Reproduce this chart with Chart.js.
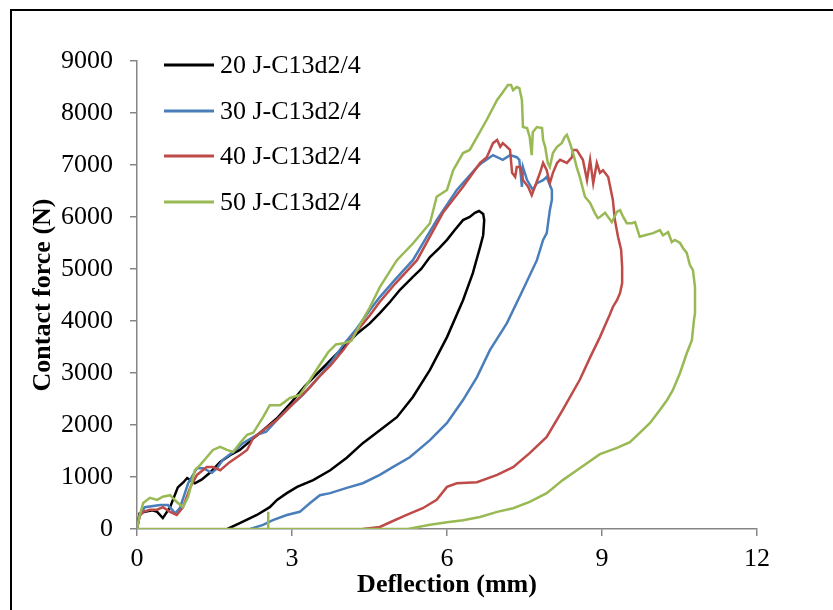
<!DOCTYPE html>
<html>
<head>
<meta charset="utf-8">
<script src="https://cdn.jsdelivr.net/npm/chart.js@4.4.1/dist/chart.umd.min.js"></script>
<style>
  html, body { margin: 0; padding: 0; background: #ffffff; }
  #wrap { width: 833px; height: 610px; position: relative; }
</style>
</head>
<body>
<div id="wrap"><canvas id="c" width="833" height="610"></canvas></div>
<script>
// ---- Data (deflection in mm, force in N) ----
const seriesLabels = ['20 J-C13d2/4', '30 J-C13d2/4', '40 J-C13d2/4', '50 J-C13d2/4'];
const seriesColors = ['#000000', '#4a7ebb', '#be4b48', '#98b954'];

const xTicks = [0, 3, 6, 9, 12];
const yTicks = [0, 1000, 2000, 3000, 4000, 5000, 6000, 7000, 8000, 9000];

const defl20 = [0, 0.05, 0.15, 0.3, 0.39, 0.5, 0.64, 0.79, 0.9, 0.97, 1.05, 1.12, 1.25, 1.41, 1.61, 1.8, 1.99, 2.2, 2.44, 2.71, 3.0, 3.25, 3.5, 3.75, 4.0, 4.25, 4.5, 4.7, 4.9, 5.09, 5.34, 5.5, 5.67, 5.85, 6.0, 6.15, 6.31, 6.44, 6.54, 6.62, 6.70, 6.72, 6.70, 6.64, 6.5, 6.31, 6.0, 5.67, 5.34, 5.03, 4.70, 4.37, 4.06, 3.74, 3.41, 3.10, 2.90, 2.71, 2.57, 2.32, 1.99, 1.75];
const force20 = [0, 300, 330, 360, 330, 210, 420, 800, 900, 980, 930, 880, 950, 1080, 1290, 1420, 1520, 1700, 1900, 2130, 2450, 2750, 3000, 3250, 3500, 3750, 3950, 4150, 4370, 4600, 4850, 5000, 5230, 5400, 5560, 5750, 5940, 6000, 6080, 6115, 6060, 5940, 5650, 5420, 4920, 4400, 3690, 3060, 2540, 2150, 1900, 1650, 1370, 1130, 940, 810, 690, 560, 420, 270, 115, 0];

const defl30 = [0, 0.05, 0.15, 0.45, 0.6, 0.74, 0.83, 0.99, 1.16, 1.28, 1.45, 1.55, 1.66, 1.86, 2.05, 2.32, 2.5, 2.71, 2.96, 3.21, 3.5, 3.75, 4.0, 4.25, 4.5, 4.7, 5.0, 5.34, 5.8, 6.19, 6.58, 6.7, 6.89, 6.97, 7.08, 7.22, 7.35, 7.40, 7.45, 7.47, 7.55, 7.66, 7.74, 7.86, 7.93, 8.03, 8.03, 7.99, 7.93, 7.86, 7.74, 7.47, 7.16, 6.83, 6.58, 6.31, 6.0, 5.67, 5.28, 4.95, 4.70, 4.37, 4.06, 3.74, 3.54, 3.35, 3.15, 2.9, 2.63, 2.44, 2.19];
const force30 = [0, 250, 420, 460, 460, 300, 400, 880, 1170, 1170, 1080, 1170, 1330, 1480, 1650, 1810, 1870, 2100, 2350, 2580, 2900, 3200, 3550, 3850, 4200, 4460, 4800, 5170, 5940, 6520, 6960, 7060, 7190, 7150, 7100, 7190, 7150, 7100, 6580, 6960, 6710, 6520, 6650, 6710, 6770, 6520, 6330, 6130, 5690, 5560, 5170, 4600, 3960, 3440, 2920, 2480, 2040, 1710, 1380, 1190, 1040, 880, 790, 690, 650, 500, 330, 270, 170, 80, 0];

const defl40 = [0, 0.05, 0.12, 0.25, 0.39, 0.5, 0.64, 0.77, 0.89, 1.03, 1.16, 1.35, 1.47, 1.61, 1.8, 1.99, 2.13, 2.25, 2.44, 2.71, 2.96, 3.35, 3.5, 3.75, 4.0, 4.25, 4.5, 4.7, 5.0, 5.42, 5.92, 6.31, 6.64, 6.77, 6.89, 6.97, 7.03, 7.08, 7.16, 7.22, 7.26, 7.32, 7.35, 7.42, 7.47, 7.57, 7.64, 7.70, 7.80, 7.86, 7.93, 7.99, 8.05, 8.13, 8.19, 8.32, 8.42, 8.44, 8.51, 8.63, 8.71, 8.77, 8.83, 8.90, 8.96, 9.02, 9.12, 9.21, 9.25, 9.31, 9.37, 9.39, 9.39, 9.35, 9.29, 9.21, 9.15, 9.06, 8.96, 8.77, 8.57, 8.24, 7.93, 7.6, 7.28, 6.97, 6.58, 6.19, 6.0, 5.8, 5.53, 5.22, 4.9, 4.7, 4.37];
const force40 = [0, 250, 330, 370, 370, 420, 330, 270, 420, 800, 1040, 1190, 1190, 1130, 1290, 1420, 1520, 1750, 1900, 2100, 2350, 2730, 2900, 3150, 3450, 3800, 4100, 4370, 4720, 5170, 6080, 6580, 7040, 7150, 7420, 7480, 7350, 7420, 7350, 7290, 6850, 6770, 6960, 6960, 6710, 6580, 6420, 6580, 6850, 7040, 6900, 6650, 6850, 7040, 7100, 7040, 7150, 7290, 7290, 7100, 6710, 7100, 6650, 7040, 6850, 6900, 6770, 6330, 5940, 5620, 5370, 5040, 4730, 4540, 4400, 4270, 4120, 3920, 3690, 3300, 2870, 2290, 1770, 1460, 1190, 1040, 900, 880, 810, 560, 400, 270, 130, 40, 0];

const defl50 = [0, 0.05, 0.12, 0.25, 0.39, 0.5, 0.64, 0.77, 0.89, 0.99, 1.12, 1.22, 1.35, 1.47, 1.61, 1.74, 1.86, 1.99, 2.13, 2.25, 2.44, 2.57, 2.77, 2.96, 3.15, 3.35, 3.5, 3.7, 3.85, 4.0, 4.15, 4.3, 4.5, 4.7, 5.03, 5.34, 5.67, 5.8, 6.0, 6.12, 6.31, 6.44, 6.77, 6.97, 7.08, 7.18, 7.24, 7.28, 7.35, 7.40, 7.45, 7.47, 7.55, 7.60, 7.64, 7.66, 7.74, 7.84, 7.86, 7.90, 7.95, 7.99, 8.05, 8.13, 8.22, 8.28, 8.32, 8.38, 8.44, 8.51, 8.57, 8.67, 8.77, 8.86, 8.92, 8.96, 9.06, 9.19, 9.29, 9.35, 9.41, 9.48, 9.58, 9.64, 9.73, 9.83, 9.99, 10.12, 10.18, 10.28, 10.35, 10.41, 10.51, 10.57, 10.64, 10.70, 10.76, 10.80, 10.80, 10.78, 10.74, 10.64, 10.51, 10.37, 10.26, 10.12, 9.93, 9.73, 9.54, 9.29, 8.96, 8.57, 8.24, 7.93, 7.6, 7.28, 6.97, 6.64, 6.31, 6.0, 5.67, 5.34, 5.44, 2.54, 2.54, 2.54, 0];
const force50 = [0, 250, 500, 600, 560, 620, 650, 520, 420, 620, 1130, 1230, 1380, 1520, 1580, 1520, 1480, 1650, 1810, 1850, 2150, 2380, 2380, 2520, 2580, 2870, 3100, 3400, 3550, 3570, 3620, 3900, 4250, 4650, 5170, 5490, 5880, 6390, 6520, 6900, 7230, 7290, 7870, 8250, 8400, 8540, 8540, 8440, 8500, 8480, 8250, 7730, 7710, 7540, 7190, 7630, 7730, 7710, 7480, 7350, 7040, 6960, 7230, 7350, 7420, 7540, 7580, 7420, 7230, 6960, 6770, 6390, 6270, 6080, 5980, 6000, 6080, 5900, 6100, 6130, 6000, 5880, 5880, 5900, 5620, 5650, 5690, 5750, 5650, 5710, 5520, 5560, 5500, 5400, 5310, 5080, 4980, 4650, 4150, 4020, 3630, 3380, 3000, 2670, 2480, 2290, 2040, 1850, 1670, 1560, 1440, 1170, 940, 690, 520, 400, 330, 230, 170, 130, 80, 20, 0, 0, 330, 0, 0];

const xTitle = 'Deflection (mm)';
const yTitle = 'Contact force (N)';

// ---- Build datasets ----
const xs = [defl20, defl30, defl40, defl50];
const ys = [force20, force30, force40, force50];
const datasets = xs.map((xa, i) => ({
  label: seriesLabels[i],
  data: xa.map((v, j) => ({ x: v, y: ys[i][j] })),
  borderColor: seriesColors[i],
  backgroundColor: seriesColors[i],
  borderWidth: 2.5,
  pointRadius: 0,
  showLine: true,
  tension: 0,
  fill: false,
  order: 3 - i
}));

const FONT = "'Liberation Serif', 'Times New Roman', serif";

const framePlugin = {
  id: 'frame',
  afterDraw(chart) {
    const ctx = chart.ctx;
    ctx.save();
    ctx.strokeStyle = '#000';
    ctx.lineWidth = 2;
    ctx.strokeRect(11, 10, 900, 700);
    ctx.restore();
  }
};

const legendPlugin = {
  id: 'innerLegend',
  afterDatasetsDraw(chart) {
    const ctx = chart.ctx;
    const rows = [65, 111, 156, 202];
    ctx.save();
    chart.data.datasets.forEach((ds, i) => {
      const y = rows[i];
      ctx.strokeStyle = ds.borderColor;
      ctx.lineWidth = 3;
      ctx.beginPath();
      ctx.moveTo(164, y);
      ctx.lineTo(214, y);
      ctx.stroke();
      ctx.fillStyle = '#000';
      ctx.font = '26px ' + FONT;
      ctx.textBaseline = 'middle';
      ctx.textAlign = 'left';
      ctx.fillText(ds.label, 220, y + 1);
    });
    ctx.restore();
  }
};

new Chart(document.getElementById('c'), {
  type: 'scatter',
  data: { datasets },
  options: {
    responsive: false,
    animation: false,
    events: [],
    layout: { padding: { left: 0, top: 61, right: 76, bottom: 0 } },
    plugins: { legend: { display: false }, tooltip: { enabled: false } },
    scales: {
      x: {
        type: 'linear',
        min: 0, max: 12,
        afterBuildTicks(scale) { scale.ticks = xTicks.map(v => ({ value: v })); },
        afterFit(scale) { scale.height = 81; },
        grid: { drawOnChartArea: false, drawTicks: true, tickLength: 7, color: '#868686', lineWidth: 1.5 },
        border: { color: '#868686', width: 1.5 },
        ticks: { color: '#000', font: { family: FONT, size: 26 }, padding: 8, maxRotation: 0 },
        title: { display: true, text: xTitle, color: '#000', font: { family: FONT, size: 26, weight: 'bold' }, padding: { top: 0, bottom: 9 } }
      },
      y: {
        type: 'linear',
        min: 0, max: 9000,
        afterBuildTicks(scale) { scale.ticks = yTicks.map(v => ({ value: v })); },
        afterFit(scale) { scale.width = 137; },
        grid: { drawOnChartArea: false, drawTicks: true, tickLength: 7, color: '#868686', lineWidth: 1.5 },
        border: { color: '#868686', width: 1.5 },
        ticks: { color: '#000', font: { family: FONT, size: 26 }, padding: 17, callback: v => String(v) },
        title: { display: true, text: yTitle, color: '#000', font: { family: FONT, size: 26, weight: 'bold' }, padding: { top: 28, bottom: 0 } }
      }
    }
  },
  plugins: [framePlugin, legendPlugin]
});
</script>
</body>
</html>
